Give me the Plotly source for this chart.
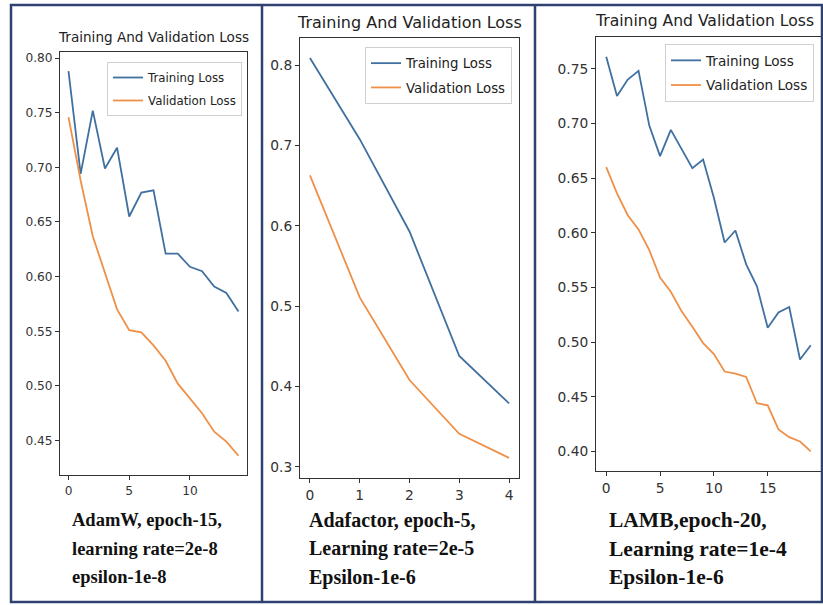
import plotly.graph_objects as go

# ---- data -------------------------------------------------------------
adamw_epochs = list(range(15))
adamw_train = [0.788, 0.694, 0.752, 0.699, 0.718, 0.655, 0.677, 0.679,
               0.621, 0.621, 0.609, 0.605, 0.591, 0.585, 0.568]
adamw_val = [0.746, 0.688, 0.637, 0.604, 0.570, 0.551, 0.549, 0.537,
             0.523, 0.502, 0.488, 0.475, 0.458, 0.449, 0.436]

adafactor_epochs = list(range(5))
adafactor_train = [0.809, 0.708, 0.593, 0.438, 0.379]
adafactor_val = [0.663, 0.511, 0.408, 0.341, 0.311]

lamb_epochs = list(range(20))
lamb_train = [0.761, 0.725, 0.740, 0.748, 0.698, 0.670, 0.694, 0.677,
              0.659, 0.667, 0.632, 0.591, 0.602, 0.571, 0.551, 0.513,
              0.527, 0.532, 0.484, 0.497]
lamb_val = [0.660, 0.636, 0.616, 0.603, 0.584, 0.559, 0.546, 0.528,
            0.514, 0.499, 0.489, 0.473, 0.471, 0.468, 0.444, 0.442,
            0.420, 0.413, 0.409, 0.400]

panel_title = "Training And Validation Loss"
series_names = ["Training Loss", "Validation Loss"]
captions = [
    ["AdamW, epoch-15,", "learning rate=2e-8", "epsilon-1e-8"],
    ["Adafactor, epoch-5,", "Learning rate=2e-5", "Epsilon-1e-6"],
    ["LAMB,epoch-20,", "Learning rate=1e-4", "Epsilon-1e-6"],
]

# ---- layout helpers ---------------------------------------------------
W, H = 823, 605
BLUE = "#40709f"
ORANGE = "#ee9048"
SPINE = "#333333"
FRAME = "#2e4170"


def px_x(v):
    return v / W


def px_y(v):
    return 1 - v / H


# ttl_x: (pixel x, anchor) of each panel heading
panels = [
    dict(x=adamw_epochs, tr=adamw_train, va=adamw_val,
         box=(60, 247, 52, 475), xr=[-0.7, 14.7], yr=[0.4184, 0.8056],
         xt=[0, 5, 10], ydt=0.05, yfmt=".2f", tick=12.2, ttl=13.6,
         ttl_x=(153.5, "center"), ttl_y=37, leg=(242, 62), legf=11.8,
         gap=4, cap=18.5, cap_x=70),
    dict(x=adafactor_epochs, tr=adafactor_train, va=adafactor_val,
         box=(300, 519, 38, 478), xr=[-0.2, 4.2], yr=[0.286, 0.834],
         xt=[0, 1, 2, 3, 4], ydt=0.1, yfmt=".1f", tick=13.8, ttl=16,
         ttl_x=(409.5, "center"), ttl_y=22, leg=(512, 47), legf=13.3,
         gap=4, cap=20, cap_x=307),
    dict(x=lamb_epochs, tr=lamb_train, va=lamb_val,
         box=(596, 821, 37, 471), xr=[-0.95, 19.95], yr=[0.382, 0.779],
         xt=[0, 5, 10, 15], ydt=0.05, yfmt=".2f", tick=13.8, ttl=15.6,
         ttl_x=(593, "left"), ttl_y=21, leg=(814, 44), legf=13.6,
         gap=4, cap=21.5, cap_x=607),
]

fig = go.Figure()
annotations = []
layout_axes = {}

for i, p in enumerate(panels, start=1):
    sfx = "" if i == 1 else str(i)
    legend_id = "legend" if i == 1 else f"legend{i}"
    for ys, name, color in ((p["tr"], series_names[0], BLUE),
                            (p["va"], series_names[1], ORANGE)):
        fig.add_trace(go.Scatter(
            x=p["x"], y=ys, mode="lines", name=name,
            line=dict(color=color, width=1.8),
            xaxis=f"x{sfx}", yaxis=f"y{sfx}", legend=legend_id,
            legendgroup=f"{legend_id}-{name}",
        ))

    x0, x1, y0, y1 = p["box"]
    common = dict(showline=True, linecolor=SPINE, linewidth=1, mirror=True,
                  ticks="outside", ticklen=4, tickcolor=SPINE,
                  showgrid=False, zeroline=False,
                  tickfont=dict(family="DejaVu Sans", size=p["tick"],
                                color="#333333"))
    layout_axes[f"xaxis{sfx}"] = dict(
        domain=[px_x(x0), px_x(x1)], range=p["xr"], anchor=f"y{sfx}",
        tickmode="array", tickvals=p["xt"], **common)
    layout_axes[f"yaxis{sfx}"] = dict(
        domain=[px_y(y1), px_y(y0)], range=p["yr"], anchor=f"x{sfx}",
        dtick=p["ydt"], tick0=0, tickformat=p["yfmt"], **common)

    layout_axes[legend_id] = dict(
        x=px_x(p["leg"][0]), y=px_y(p["leg"][1]),
        xanchor="right", yanchor="top",
        bgcolor="rgba(255,255,255,0.85)", bordercolor="#d0d0d0",
        borderwidth=1, itemwidth=30, tracegroupgap=p["gap"],
        font=dict(family="DejaVu Sans", size=p["legf"], color="#222222"),
    )

    annotations.append(dict(
        text=panel_title, xref="paper", yref="paper",
        x=px_x(p["ttl_x"][0]), y=px_y(p["ttl_y"]),
        xanchor=p["ttl_x"][1], yanchor="middle", showarrow=False,
        font=dict(family="DejaVu Sans", size=p["ttl"], color="#222222"),
    ))
    for k, line in enumerate(captions[i - 1]):
        annotations.append(dict(
            text=line, xref="paper", yref="paper",
            x=px_x(p["cap_x"]), y=px_y(520 + 28.5 * k),
            xanchor="left", yanchor="middle", showarrow=False,
            font=dict(family="Liberation Serif", size=p["cap"],
                      color="#111111", weight="bold"),
        ))

# outer frame and panel dividers
shapes = [
    dict(type="rect", xref="paper", yref="paper",
         x0=px_x(11), x1=px_x(822), y0=px_y(602), y1=px_y(5),
         line=dict(color=FRAME, width=2.5)),
    dict(type="line", xref="paper", yref="paper",
         x0=px_x(262), x1=px_x(262), y0=px_y(602), y1=px_y(5),
         line=dict(color=FRAME, width=2.5)),
    dict(type="line", xref="paper", yref="paper",
         x0=px_x(535), x1=px_x(535), y0=px_y(602), y1=px_y(5),
         line=dict(color=FRAME, width=2.5)),
]

fig.update_layout(
    width=W, height=H, margin=dict(l=0, r=0, t=0, b=0),
    paper_bgcolor="white", plot_bgcolor="white",
    showlegend=True, annotations=annotations, shapes=shapes,
    **layout_axes,
)

fig.write_html("out.html")
